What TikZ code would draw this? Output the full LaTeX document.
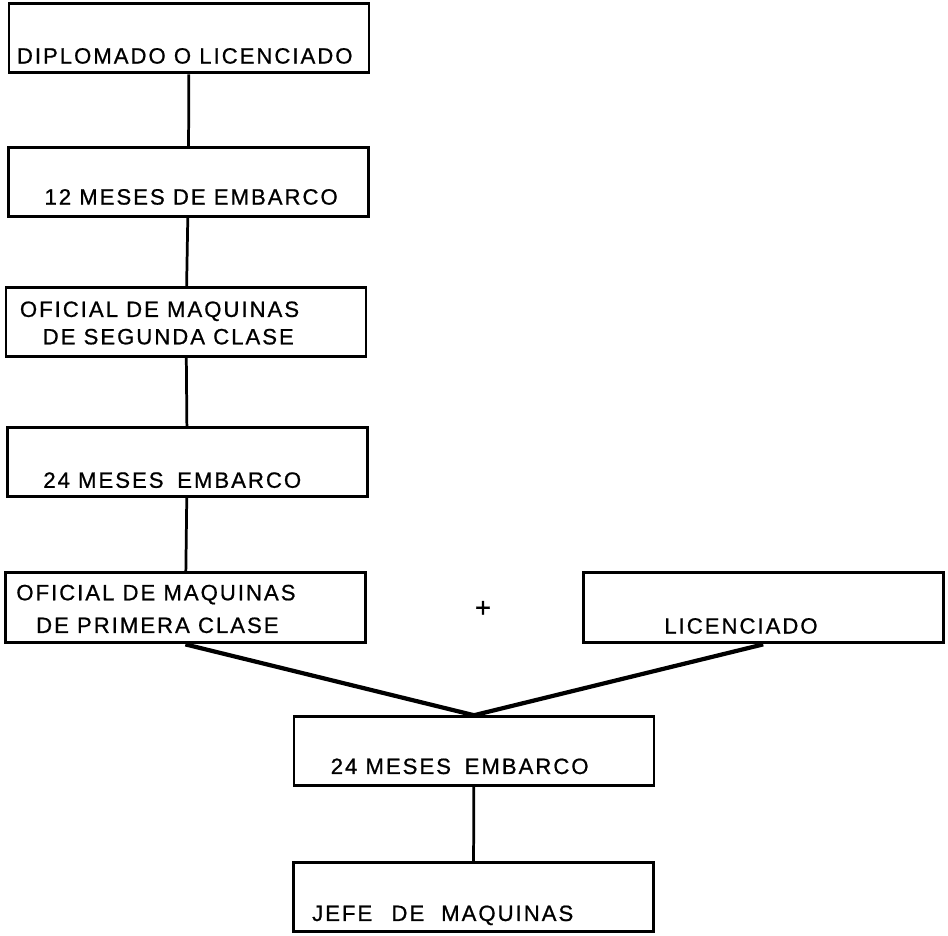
\documentclass[tikz,border=0pt]{standalone}
\usepackage{fontspec}
\setmainfont{Liberation Sans}[LetterSpace=9, FakeBold=0.8]
\usepackage{tikz}
\usetikzlibrary{calc}

\tikzset{
    caja/.style={draw, line width=1.4pt, minimum width=6cm, minimum height=1.15cm, inner sep=0pt},
    texto/.style={inner sep=0pt, align=left, font=\fontsize{10.5}{13}\selectfont},
    linea/.style={line width=1.3pt},
    diag/.style={line width=2pt},
}

\begin{document}
\begin{tikzpicture}
    \useasboundingbox (0,0) rectangle (15.8,-15.6);
    % Cajas
    \node[caja] (dipl) at (3.15,-0.64) {};
    \node[caja] (doce) at (3.14,-3.03) {};
    \node[caja] (segunda) at (3.10,-5.37) {};
    \node[caja] (veinte) at (3.12,-7.7) {};
    \node[caja, minimum height=1.17cm] (primera) at (3.09,-10.13) {};
    \node[caja, minimum height=1.17cm] (lic) at (12.72,-10.13) {};
    \node[caja] (veinteb) at (7.90,-12.52) {};
    \node[caja] (jefe) at (7.89,-14.95) {};
    % Textos
    \node[texto, anchor=base west] (tdipl) at ($(dipl.south west)+(0.15,0.18)$) {DIPLOMADO O LICENCIADO};
    \node[texto, anchor=base west] (tdoce) at ($(doce.south west)+(0.62,0.22)$) {12 MESES DE EMBARCO};
    \node[texto, anchor=south west] (tsegunda) at ($(segunda.south west)+(0.25,0.22)$) {OFICIAL DE MAQUINAS\\\hspace{0.38cm}DE SEGUNDA CLASE};
    \node[texto, anchor=base west] (tveinte) at ($(veinte.south west)+(0.62,0.17)$) {24 MESES\hspace{0.25em} EMBARCO};
    \node[texto, anchor=south west, font=\fontsize{10.5}{15.5}\selectfont] (tprimera) at ($(primera.south west)+(0.2,0.18)$) {OFICIAL DE MAQUINAS\\\hspace{0.33cm}DE PRIMERA CLASE};
    \node[texto, anchor=base west] (tlic) at ($(lic.south west)+(1.37,0.18)$) {LICENCIADO};
    \node[texto, anchor=base west] (tveinteb) at ($(veinteb.south west)+(0.63,0.22)$) {24 MESES\hspace{0.25em} EMBARCO};
    \node[texto, anchor=base west] (tjefe) at ($(jefe.south west)+(0.33,0.2)$) {JEFE\hspace{0.5em} DE\hspace{0.4em} MAQUINAS};
    \node[font=\fontsize{13}{13}\selectfont] (mas) at (8.05,-10.15) {+};
    % Conexiones
    \draw[linea] (dipl) -- (doce);
    \draw[linea] (doce) -- (segunda);
    \draw[linea] (segunda) -- (veinte);
    \draw[linea] (veinte) -- (primera);
    \draw[diag] (primera.south) -- (veinteb.north);
    \draw[diag] (lic.south) -- (veinteb.north);
    \draw[linea] (veinteb) -- (jefe);
\end{tikzpicture}
\end{document}
